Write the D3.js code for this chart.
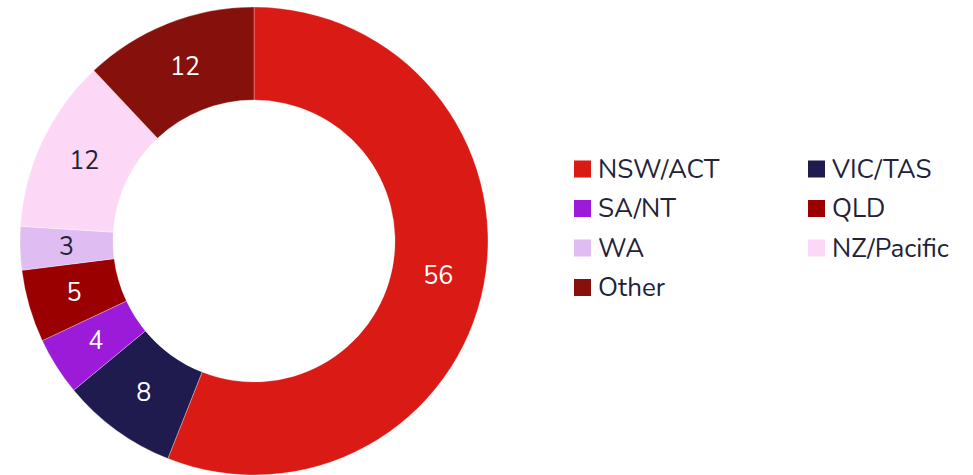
<!DOCTYPE html>
<html>
<head>
<meta charset="utf-8">
<script src="https://cdn.jsdelivr.net/npm/d3@7"></script>
<style>
  html, body { margin: 0; padding: 0; background: #fff; }
  svg { display: block; font-family: "Nunito", "Open Sans", sans-serif; }
</style>
</head>
<body>
<svg id="chart" width="973" height="475"></svg>
<script>
// Share by region
const regions = ["NSW/ACT", "VIC/TAS", "SA/NT", "QLD", "WA", "NZ/Pacific", "Other"];
const shares = [56, 8, 4, 5, 3, 12, 12];
const colors = ["#DA1A14", "#1F1B4F", "#9B1BD9", "#9B0000", "#DFBCF2", "#FDD8F6", "#86100C"];
const labelColors = ["#ffffff", "#ffffff", "#ffffff", "#ffffff", "#22223a", "#22223a", "#ffffff"];

const svg = d3.select("#chart");
const cx = 254, cy = 241, outerR = 234, innerR = 141;

const data = regions.map((r, i) => ({ region: r, value: shares[i], color: colors[i], labelColor: labelColors[i] }));

const pie = d3.pie().value(d => d.value).sort(null);
const arc = d3.arc().innerRadius(innerR).outerRadius(outerR);

const g = svg.append("g").attr("transform", `translate(${cx},${cy})`);
const arcs = pie(data);

g.selectAll("path")
  .data(arcs)
  .join("path")
  .attr("d", arc)
  .attr("fill", d => d.data.color)
  .attr("stroke", "#ffffff")
  .attr("stroke-opacity", 0.5)
  .attr("stroke-width", 0.6);

g.selectAll("text")
  .data(arcs)
  .join("text")
  .attr("transform", d => `translate(${arc.centroid(d)})`)
  .attr("text-anchor", "middle")
  .attr("dominant-baseline", "central")
  .attr("font-size", 25)
  .attr("fill", d => d.data.labelColor)
  .text(d => d.data.value);

// Legend: two columns
const legend = svg.append("g");
const colX = [574, 808], rowY0 = 169, rowStep = 39.5;
const items = legend.selectAll("g")
  .data(data)
  .join("g")
  .attr("transform", (d, i) => `translate(${colX[i % 2]},${rowY0 + Math.floor(i / 2) * rowStep})`);

items.append("rect")
  .attr("x", 0).attr("y", -8.5)
  .attr("width", 17).attr("height", 17)
  .attr("fill", d => d.color);

items.append("text")
  .attr("x", 24)
  .attr("y", 0)
  .attr("dominant-baseline", "central")
  .attr("font-size", 26)
  .attr("fill", "#22223a")
  .text(d => d.region);
</script>
</body>
</html>
